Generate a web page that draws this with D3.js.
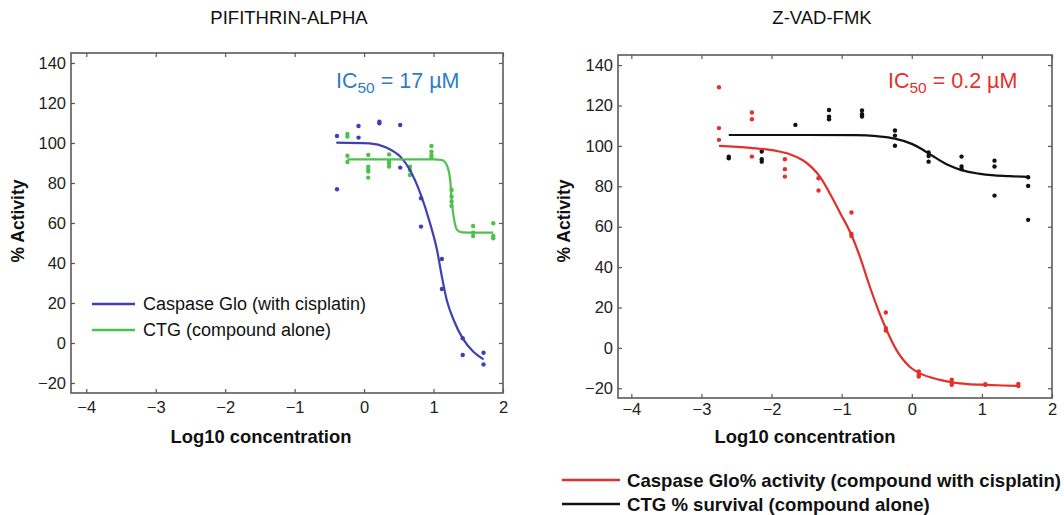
<!DOCTYPE html>
<html><head><meta charset="utf-8">
<script src="https://cdn.jsdelivr.net/npm/d3@7"></script>
<style>
html,body{margin:0;padding:0;background:#fff;}
text{font-family:"Liberation Sans",Arial,Helvetica,sans-serif;}
</style></head>
<body>
<svg id="chart" width="1064" height="515"></svg>
<script>
// ---------- DATA ----------
const panelTitles = ["PIFITHRIN-ALPHA", "Z-VAD-FMK"];
const xTicks = [-4, -3, -2, -1, 0, 1, 2];
const yTicks = [-20, 0, 20, 40, 60, 80, 100, 120, 140];
const xAxisTitle = "Log10 concentration";
const yAxisTitle = "% Activity";

// Left panel: PIFITHRIN-ALPHA
const blueX = [-0.39,-0.39,-0.08,-0.08,0.22,0.22,0.52,0.52,0.82,0.82,1.12,1.12,1.42,1.42,1.72,1.72];
const blueY = [103.5,76.9,108.5,102.7,110.7,109.9,109,87.7,72.4,58.2,42,27,2.4,-6,-4.9,-10.7];
const blueCurveX = [-0.40,0.08,0.32,0.52,0.66,0.81,0.95,1.05,1.12,1.19,1.29,1.42,1.57,1.72];
const blueCurveY = [100.2,99.8,97.7,93.2,86.5,74.8,59.8,46.5,33.2,21.5,11.5,2.3,-4.3,-8.2];
const greenX = [-0.24,-0.24,-0.24,-0.24,0.06,0.06,0.06,0.06,0.06,0.36,0.36,0.36,0.36,0.66,0.66,0.66,0.97,0.97,0.97,0.97,1.26,1.26,1.26,1.26,1.57,1.57,1.57,1.86,1.86,1.86];
const greenY = [104.5,103.2,93.6,90.5,94,88.2,86.8,85.7,82.7,94.3,91,89.8,88.2,88.2,86.5,84,98.5,95.7,94,92.8,76.5,73.2,70.7,68.5,58.5,55.2,53.5,59.9,53.5,52.4];
const greenCurveX = [-0.24,0.5,1.0,1.12,1.19,1.24,1.26,1.29,1.34,1.41,1.6,1.86];
const greenCurveY = [91.8,91.8,91.8,91.5,89,81.5,71.5,63,56.5,55.3,55.2,55.2];
const leftLegend = ["Caspase Glo (with cisplatin)", "CTG (compound alone)"];
const leftIC50 = ["IC", "50", " = 17 \u00B5M"];

// Right panel: Z-VAD-FMK
const redX = [-2.75,-2.75,-2.75,-2.28,-2.28,-2.28,-1.81,-1.81,-1.81,-1.33,-1.33,-0.86,-0.86,-0.86,-0.37,-0.37,-0.37,0.1,0.1,0.1,0.57,0.57,0.57,1.05,1.05,1.52,1.52];
const redY = [129,108.8,103,116.5,113.2,94.7,93.4,88.5,84.8,84,77.9,67,56.4,55.4,17.5,9.8,8.6,-11.7,-13.4,-14.2,-15.8,-17.2,-18.3,-18,-18.3,-17.8,-18.8];
const redCurveX = [-2.75,-2.3,-1.93,-1.75,-1.56,-1.43,-1.31,-1.17,-1.02,-0.86,-0.74,-0.62,-0.48,-0.37,-0.22,-0.03,0.11,0.4,0.6,0.8,1.05,1.3,1.52];
const redCurveY = [100,99,97.5,96,93,89.5,84.8,76.6,66.7,55.9,45.2,32.5,19,9.7,-1,-9.3,-12.5,-15.8,-17.2,-17.9,-18.3,-18.6,-18.8];
const blackX = [-2.61,-2.61,-2.14,-2.14,-2.14,-1.66,-1.18,-1.18,-1.18,-0.71,-0.71,-0.71,-0.24,-0.24,-0.24,0.24,0.24,0.24,0.71,0.71,0.71,1.18,1.18,1.18,1.66,1.66,1.66];
const blackY = [94.7,93.9,97.2,93.4,92.2,110.4,117.8,114.5,113.2,117.5,115.7,114.5,107.6,105.1,100.1,96.7,95,92.2,94.7,89.8,88.5,92.7,89.8,75.4,84.5,80.2,63.4];
const blackCurveX = [-2.61,-1.5,-0.8,-0.5,-0.24,0,0.14,0.3,0.52,0.71,0.95,1.18,1.4,1.66];
const blackCurveY = [105.4,105.4,105.3,104.8,103.6,101,98.5,95,90.5,88,86.3,85.4,85,84.7];
const rightLegend = ["Caspase Glo% activity (compound with cisplatin)", "CTG % survival (compound alone)"];
const rightIC50 = ["IC", "50", " = 0.2 \u00B5M"];

// ---------- DRAW ----------
const svg = d3.select("#chart");
const fmt = d => (d < 0 ? "\u2212" + Math.abs(d) : String(d));

function panel(cfg) {
  const x = d3.scaleLinear().domain(cfg.xDom).range([cfg.left, cfg.right]);
  const y = d3.scaleLinear().domain(cfg.yDom).range([cfg.bottom, cfg.top]);
  const g = svg.append("g");
  const tickLen = 4;

  g.append("rect").attr("x", cfg.left).attr("y", cfg.top)
    .attr("width", cfg.right - cfg.left).attr("height", cfg.bottom - cfg.top)
    .attr("fill", "none").attr("stroke", "#5a5a5a").attr("stroke-width", 1.6);

  const styleAxis = (sel, showLabels) => {
    sel.select(".domain").remove();
    sel.selectAll(".tick line").attr("stroke", "#5a5a5a").attr("stroke-width", 1.2);
    sel.selectAll(".tick text").attr("fill", "#222").style("font-size", "16.5px")
      .style("display", showLabels ? null : "none");
  };
  g.append("g").attr("transform", `translate(0,${cfg.bottom})`)
    .call(d3.axisBottom(x).tickValues(xTicks).tickFormat(fmt).tickSizeInner(-tickLen).tickSizeOuter(0).tickPadding(cfg.xPad))
    .call(s => styleAxis(s, true));
  g.append("g").attr("transform", `translate(0,${cfg.top})`)
    .call(d3.axisTop(x).tickValues(xTicks).tickSizeInner(-tickLen).tickSizeOuter(0))
    .call(s => styleAxis(s, false));
  g.append("g").attr("transform", `translate(${cfg.left},0)`)
    .call(d3.axisLeft(y).tickValues(yTicks).tickFormat(fmt).tickSizeInner(-tickLen).tickSizeOuter(0).tickPadding(5))
    .call(s => styleAxis(s, true));
  g.append("g").attr("transform", `translate(${cfg.right},0)`)
    .call(d3.axisRight(y).tickValues(yTicks).tickSizeInner(-tickLen).tickSizeOuter(0))
    .call(s => styleAxis(s, false));

  const line = d3.line().x(d => x(d[0])).y(d => y(d[1])).curve(d3.curveMonotoneX);
  cfg.series.forEach(s => {
    g.append("g").selectAll("circle").data(d3.zip(s.px, s.py)).join("circle")
      .attr("cx", d => x(d[0])).attr("cy", d => y(d[1])).attr("r", 2.2).attr("fill", s.color);
  });
  cfg.series.forEach(s => {
    g.append("path").datum(d3.zip(s.cx, s.cy)).attr("d", line)
      .attr("fill", "none").attr("stroke", s.color).attr("stroke-width", 2.2);
  });

  // titles
  svg.append("text").attr("x", cfg.titleX).attr("y", 24).attr("text-anchor", "middle")
    .style("font-size", "18.5px").attr("fill", "#111").text(cfg.title);
  svg.append("text").attr("x", cfg.xLabelX).attr("y", 443).attr("text-anchor", "middle")
    .style("font-size", "18.4px").style("font-weight", "bold").attr("fill", "#111").text(xAxisTitle);
  svg.append("text").attr("transform", `translate(${cfg.yLabelX},221) rotate(-90)`)
    .attr("text-anchor", "middle").style("font-size", "17.5px").style("font-weight", "bold")
    .attr("fill", "#111").text(yAxisTitle);

  // IC50
  const t = svg.append("text").attr("x", cfg.icX).attr("y", 88).style("font-size", "21.5px").attr("fill", cfg.icColor);
  t.append("tspan").text(cfg.ic[0]);
  t.append("tspan").attr("dy", 5).style("font-size", "15.5px").text(cfg.ic[1]);
  t.append("tspan").attr("dy", -5).text(cfg.ic[2]);
  return {x, y};
}

panel({
  xDom: [-4.22, 2], yDom: [-25, 145], left: 71, right: 503, top: 53, bottom: 393,
  title: panelTitles[0], titleX: 289, xLabelX: 261, yLabelX: 24, xPad: 8,
  ic: leftIC50, icX: 336, icColor: "#2e7cc2",
  series: [
    {px: blueX, py: blueY, cx: blueCurveX, cy: blueCurveY, color: "#3f3fb4"},
    {px: greenX, py: greenY, cx: greenCurveX, cy: greenCurveY, color: "#4cc24c"}
  ]
});
panel({
  xDom: [-4.19, 2], yDom: [-24.8, 145], left: 618, right: 1052, top: 55, bottom: 398,
  title: panelTitles[1], titleX: 822, xLabelX: 805, yLabelX: 570, xPad: 5,
  ic: rightIC50, icX: 888, icColor: "#e5302a",
  series: [
    {px: blackX, py: blackY, cx: blackCurveX, cy: blackCurveY, color: "#111111"},
    {px: redX, py: redY, cx: redCurveX, cy: redCurveY, color: "#e2302a"}
  ]
});

// Left legend
const legL = [{c: "#3f3fb4", t: leftLegend[0], y: 304}, {c: "#4cc24c", t: leftLegend[1], y: 330}];
legL.forEach(d => {
  svg.append("line").attr("x1", 92).attr("x2", 135).attr("y1", d.y).attr("y2", d.y)
    .attr("stroke", d.c).attr("stroke-width", 2.5);
  svg.append("text").attr("x", 143).attr("y", d.y + 6).style("font-size", "18px").attr("fill", "#111").text(d.t);
});
// Right legend
const legR = [{c: "#e2302a", t: rightLegend[0], y: 480}, {c: "#111111", t: rightLegend[1], y: 504}];
legR.forEach(d => {
  svg.append("line").attr("x1", 562).attr("x2", 620).attr("y1", d.y).attr("y2", d.y)
    .attr("stroke", d.c).attr("stroke-width", 2.5);
  svg.append("text").attr("x", 627).attr("y", d.y + 6.5).style("font-size", "18.6px").style("font-weight", "bold")
    .attr("fill", "#111").text(d.t);
});
</script>
</body></html>
